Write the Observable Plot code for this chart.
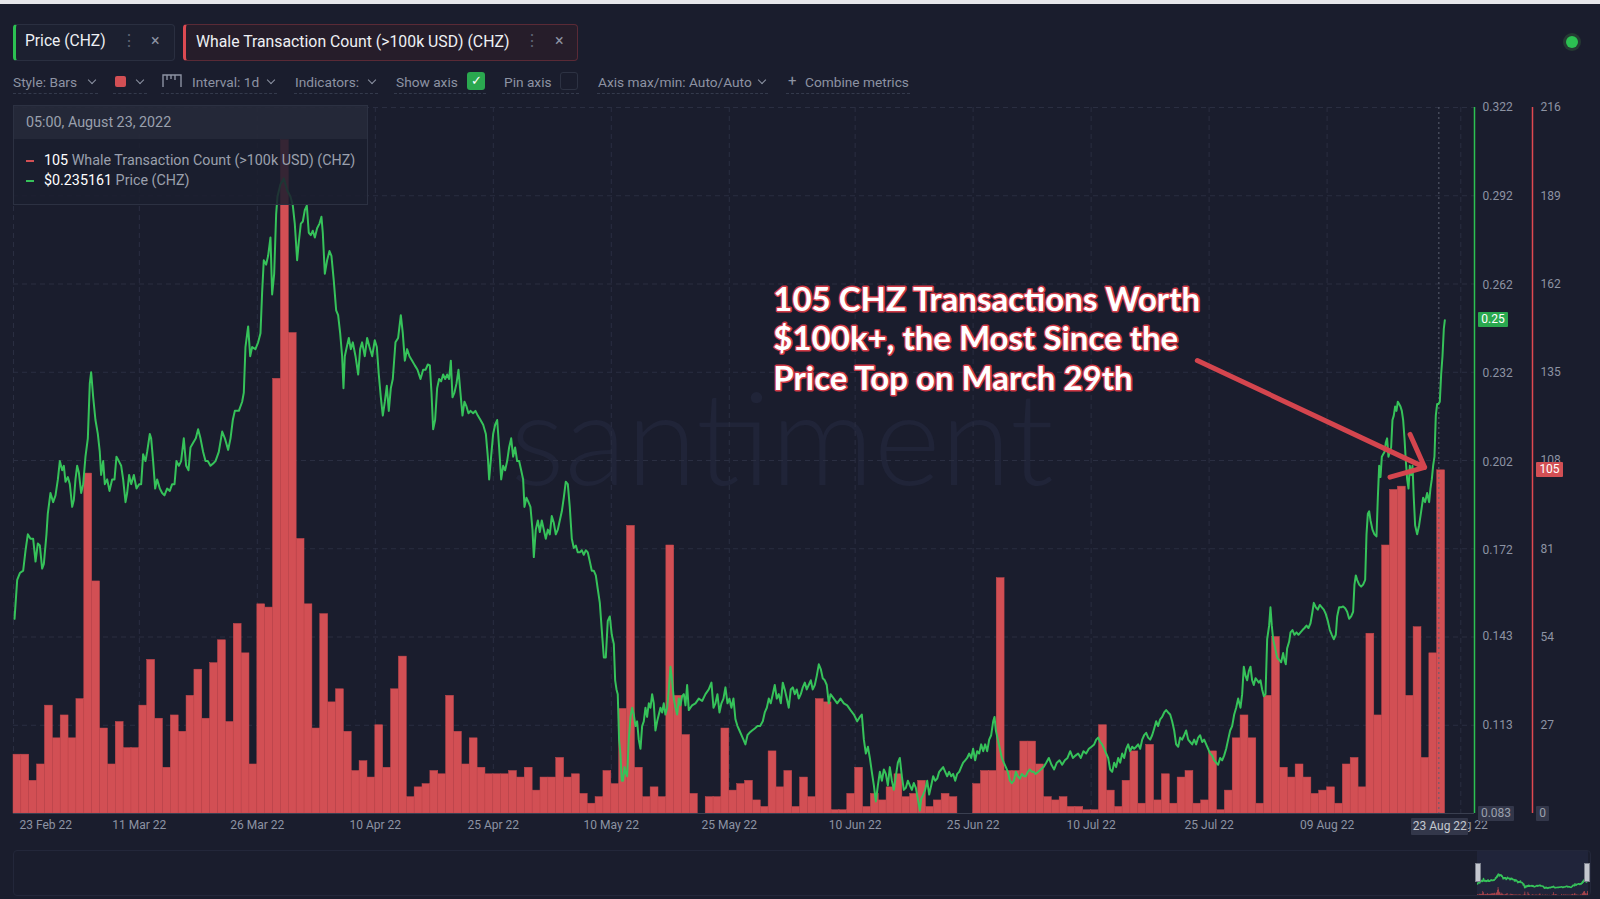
<!DOCTYPE html>
<html><head><meta charset="utf-8">
<script src="https://cdn.jsdelivr.net/npm/d3@7"></script>
<script src="https://cdn.jsdelivr.net/npm/@observablehq/plot@0.6"></script>
<style>
html,body{margin:0;padding:0;background:#1a1d2d;width:1600px;height:899px;overflow:hidden;font-family:Roboto,"Open Sans",sans-serif;}
#root{position:relative;width:1600px;height:899px;}
.a{position:absolute;white-space:nowrap;}
.tb{font-size:13.7px;color:#8d93a3;line-height:18px;top:73px;}
.chev{position:absolute;width:5px;height:5px;border-right:1.3px solid #8d93a3;border-bottom:1.3px solid #8d93a3;transform:rotate(45deg);top:77px;}
.ul{position:absolute;top:93px;height:0;border-bottom:1px dashed #343a4c;}
.tag{position:absolute;font-size:12px;line-height:15px;height:15px;text-align:center;border-radius:1px;}
</style></head>
<body><div id="root">
<div class="a" style="left:0;top:0;width:1600px;height:4px;background:#e6e6ea"></div>
<!-- tabs -->
<div class="a" style="left:13px;top:24px;width:158px;height:35px;border:1px solid #2a2f40;border-left:3px solid #2cc152;border-radius:4px;background:#1c2030"></div>
<div class="a" style="left:25px;top:32px;font-size:15.6px;color:#eef0f4">Price (CHZ)</div>
<div class="a" style="left:121px;top:31px;font-size:16px;color:#5d6373">⋮</div>
<div class="a" style="left:151px;top:31px;font-size:16px;color:#8d93a3">×</div>
<div class="a" style="left:183px;top:24px;width:391px;height:35px;border:1px solid #5a2a36;border-left:3px solid #dc4a52;border-radius:4px;background:#261d2a"></div>
<div class="a" style="left:196px;top:32px;font-size:15.8px;color:#eef0f4">Whale Transaction Count (&gt;100k USD) (CHZ)</div>
<div class="a" style="left:524px;top:31px;font-size:16px;color:#5d6373">⋮</div>
<div class="a" style="left:555px;top:31px;font-size:16px;color:#8d93a3">×</div>
<div class="a" style="left:1566px;top:36px;width:12px;height:12px;border-radius:50%;background:#2cc152;box-shadow:0 0 0 3px #253a33"></div>
<!-- toolbar -->
<div class="a tb" style="left:13px">Style: Bars</div><div class="chev" style="left:89px"></div>
<div class="a" style="left:115px;top:76px;width:11px;height:11px;border-radius:2px;background:#d24f54"></div><div class="chev" style="left:137px"></div>
<svg class="a" style="left:162px;top:74px" width="20" height="14"><path d="M1,13 V1 H19 V13 M5,1 V6 M9,1 V5 M13,1 V6" fill="none" stroke="#8d93a3" stroke-width="1.4"/></svg>
<div class="a tb" style="left:192px">Interval: 1d</div><div class="chev" style="left:268px"></div>
<div class="a tb" style="left:295px">Indicators:</div><div class="chev" style="left:369px"></div>
<div class="a tb" style="left:396px">Show axis</div>
<div class="a" style="left:467px;top:72px;width:18px;height:18px;border-radius:3px;background:#2aa84f;color:#fff;font-size:13px;line-height:18px;text-align:center">✓</div>
<div class="a tb" style="left:504px">Pin axis</div>
<div class="a" style="left:560px;top:72px;width:16px;height:16px;border-radius:3px;border:1px solid #2d3243"></div>
<div class="a tb" style="left:598px">Axis max/min: Auto/Auto</div><div class="chev" style="left:759px"></div>
<div class="a tb" style="left:788px;font-size:15px;top:72px">+</div>
<div class="a tb" style="left:805px">Combine metrics</div>
<div class="ul" style="left:13px;width:85px"></div><div class="ul" style="left:113px;width:34px"></div>
<div class="ul" style="left:161px;width:116px"></div><div class="ul" style="left:294px;width:84px"></div>
<div class="ul" style="left:394px;width:92px"></div><div class="ul" style="left:502px;width:77px"></div>
<div class="ul" style="left:597px;width:171px"></div><div class="ul" style="left:786px;width:124px"></div>
<!-- navigator -->
<div class="a" style="left:13px;top:850px;width:1576px;height:44px;border:1px solid #23273a;border-radius:4px"></div>
<div class="a" style="left:1477px;top:851px;width:111px;height:43px;background:#20243a"></div>
<div id="chart" class="a" style="left:0;top:95px"></div>
<div id="nav" class="a" style="left:1477px;top:850px;width:111px;height:45px"></div>
<div class="a" style="left:1475px;top:863px;width:4px;height:17px;background:#c4c7cf;border:1px solid #7c808c"></div>
<div class="a" style="left:1584px;top:863px;width:4px;height:17px;background:#c4c7cf;border:1px solid #7c808c"></div>
<div id="tip" class="a" style="left:13px;top:105px;width:353px;height:98px;border:1px solid #2c3142;background:rgba(27,30,46,0.86)">
  <div id="tiphead" style="height:33px;line-height:33px;padding-left:12px;font-size:14.3px;color:#9aa0ad;background:rgba(45,49,66,0.55)"></div>
  <div id="row1" style="position:absolute;left:12px;top:46px;font-size:14.3px;color:#9aa0ad"></div>
  <div id="row2" style="position:absolute;left:12px;top:66px;font-size:14.3px;color:#9aa0ad"></div>
</div>
</div>
<script>
// ---------- data ----------
const startDay = "2022-02-23";
const whaleCounts = [18,18,10,15,33,23,30,23,35,104,71,26,15,28,20,20,33,47,29,14,30,25,36,44,29,46,
53,28,58,49,15,64,63,133,206,147,84,64,26,61,34,38,25,13,16,11,27,14,38,48,5,8,
9,13,12,36,25,15,23,14,12,12,12,13,11,14,7,11,11,17,11,12,6,3,5,13,9,32,
88,14,5,8,5,82,36,24,6,0,5,5,26,7,9,10,4,2,19,8,13,2,11,5,35,34,
1,1,6,14,2,6,4,8,12,5,6,10,2,4,6,5,0,0,9,13,13,72,13,13,22,22,
15,5,4,5,2,2,1,1,27,7,2,10,19,3,21,4,12,3,11,13,3,4,19,1,7,23,
30,23,3,36,54,14,11,15,11,6,7,8,3,15,17,8,55,30,82,99,100,36,57,17,49,105];
// [days since 23 Feb 2022, price USD]
const pricePoints = [
[0.13,0.1489],[0.47,0.1621],[0.81,0.1644],[1.23,0.1652],[1.53,0.1721],[1.82,0.1775],[2.16,0.1760],[2.50,0.1760],[2.80,0.1683],[3.09,0.1744],[3.35,0.1737],[3.64,0.1659],[3.86,0.1675],[4.19,0.1775],[4.36,0.1845],[4.70,0.1915],[5.04,0.1884],[5.34,0.1907],[5.64,0.1961],[5.89,0.2023],[6.19,0.1992],[6.40,0.2007],[6.61,0.1953],[6.91,0.1969],[7.16,0.1945],[7.46,0.1868],[7.67,0.1891],[7.88,0.1961],[8.09,0.2007],[8.31,0.1984],[8.60,0.1915],[8.86,0.1945],[9.15,0.2038],[9.45,0.2100],[9.70,0.2286],[9.87,0.2324],[10.13,0.2239],[10.42,0.2162],[10.72,0.2115],[10.97,0.2054],[11.14,0.1976],[11.40,0.2023],[11.61,0.1945],[11.91,0.1961],[12.20,0.1922],[12.54,0.1961],[12.84,0.1961],[13.09,0.2038],[13.39,0.2023],[13.69,0.2007],[13.94,0.1961],[14.24,0.1884],[14.45,0.1915],[14.70,0.1976],[14.96,0.1945],[15.30,0.1976],[15.64,0.1930],[15.97,0.1945],[16.23,0.1945],[16.48,0.2046],[16.78,0.2023],[16.99,0.2054],[17.33,0.2115],[17.50,0.2100],[17.75,0.2023],[18.01,0.1930],[18.26,0.1961],[18.60,0.1930],[18.90,0.1915],[19.19,0.1907],[19.53,0.1930],[19.87,0.1922],[20.17,0.1945],[20.47,0.1945],[20.72,0.2023],[21.02,0.2007],[21.31,0.2023],[21.65,0.2100],[21.95,0.2007],[22.25,0.1992],[22.50,0.2069],[22.84,0.2085],[23.18,0.2100],[23.47,0.2131],[23.77,0.2100],[24.11,0.2054],[24.41,0.2023],[24.70,0.2023],[25.04,0.2007],[25.38,0.2015],[25.68,0.2023],
[26.10,0.2054],[26.53,0.2123],[26.87,0.2100],[27.29,0.2061],[27.59,0.2100],[27.88,0.2162],[28.14,0.2193],[28.65,0.2193],[29.07,0.2224],[29.28,0.2255],[29.49,0.2409],[29.83,0.2479],[30.09,0.2378],[30.34,0.2409],[30.76,0.2402],[31.10,0.2425],[31.40,0.2456],[31.61,0.2595],[31.82,0.2703],[32.12,0.2688],[32.37,0.2718],[32.67,0.2780],[32.88,0.2587],[33.14,0.2657],[33.39,0.2858],[33.56,0.2919],[33.94,0.2960],[34.37,0.2980],[34.79,0.2940],[35.21,0.2919],[35.51,0.2888],[35.76,0.2827],[36.06,0.2703],[36.27,0.2765],[36.53,0.2827],[36.78,0.2834],[37.04,0.2873],[37.29,0.2888],[37.54,0.2796],[37.80,0.2788],[38.05,0.2803],[38.31,0.2780],[38.60,0.2811],[38.90,0.2827],[39.15,0.2850],[39.32,0.2796],[39.58,0.2657],[39.87,0.2703],[40.17,0.2734],[40.42,0.2718],[40.72,0.2633],[41.02,0.2533],[41.27,0.2517],[41.53,0.2456],[41.78,0.2378],[41.95,0.2270],[42.12,0.2378],[42.37,0.2409],[42.63,0.2440],[42.88,0.2402],[43.14,0.2425],[43.48,0.2378],[43.82,0.2316],[44.07,0.2402],[44.32,0.2425],[44.66,0.2378],[44.96,0.2440],[45.26,0.2409],[45.60,0.2378],[45.93,0.2432],[46.19,0.2409],[46.44,0.2316],[46.70,0.2239],[46.95,0.2177],[47.21,0.2224],[47.46,0.2278],[47.71,0.2193],[47.97,0.2270],[48.22,0.2301],[48.56,0.2425],[48.90,0.2440],[49.24,0.2517],[49.49,0.2456],[49.75,0.2363],[50.04,0.2402],[50.34,0.2378],[50.68,0.2363],[51.02,0.2347],[51.36,0.2332],[51.74,0.2301],
[52.08,0.2332],[52.38,0.2332],[52.67,0.2350],[52.93,0.2347],[53.14,0.2255],[53.35,0.2131],[53.60,0.2162],[53.86,0.2270],[54.11,0.2301],[54.37,0.2293],[54.62,0.2316],[54.88,0.2301],[55.13,0.2316],[55.38,0.2301],[55.60,0.2363],[55.81,0.2239],[56.06,0.2255],[56.32,0.2286],[56.57,0.2332],[56.82,0.2255],[57.08,0.2177],[57.33,0.2224],[57.59,0.2208],[57.84,0.2185],[58.10,0.2193],[58.43,0.2185],[58.73,0.2193],[59.03,0.2177],[59.37,0.2162],[59.71,0.2146],[60.05,0.2115],[60.30,0.2038],[60.47,0.1961],[60.72,0.2038],[60.98,0.2115],[61.23,0.2146],[61.49,0.2162],[61.74,0.2069],[62.00,0.1961],[62.25,0.2007],[62.50,0.1992],[62.76,0.2023],[63.01,0.2069],[63.27,0.2100],[63.52,0.2038],[63.77,0.2069],[64.03,0.2023],[64.28,0.2023],[64.54,0.1992],[64.79,0.1961],[64.96,0.1868],[65.21,0.1899],[65.47,0.1884],[65.72,0.1868],[65.98,0.1791],[66.15,0.1698],[66.40,0.1791],[66.66,0.1822],[66.91,0.1783],[67.16,0.1822],[67.42,0.1791],[67.67,0.1760],[67.93,0.1791],[68.18,0.1775],[68.43,0.1837],[68.69,0.1814],[68.94,0.1775],[69.20,0.1791],[69.45,0.1822],[69.71,0.1853],[69.96,0.1899],[70.21,0.1953],[70.47,0.1945],[70.72,0.1868],[70.98,0.1760],[71.23,0.1729],[71.49,0.1737],[71.74,0.1714],[71.99,0.1714],[72.25,0.1721],[72.50,0.1706],[72.76,0.1721],[73.01,0.1714],[73.27,0.1683],[73.52,0.1652],[73.77,0.1652],[74.03,0.1636],[74.28,0.1590],[74.54,0.1543],[74.79,0.1451],[75.05,0.1358],[75.30,0.1358],[75.55,0.1482],[75.81,0.1497],[76.06,0.1435],[76.32,0.1404],[76.49,0.1281],[76.66,0.1250],[76.82,0.1234],[76.99,0.1080],[77.16,0.1033],[77.33,0.0941],[77.50,0.0941],[77.67,0.0987],
[77.80,0.0971],[78.01,0.0956],[78.22,0.1080],[78.44,0.1157],[78.65,0.1188],[78.86,0.1165],[79.07,0.1126],[79.28,0.1142],[79.49,0.1080],[79.71,0.1049],[79.92,0.1126],[80.13,0.1142],[80.34,0.1188],[80.55,0.1157],[80.77,0.1203],[80.98,0.1188],[81.19,0.1234],[81.40,0.1203],[81.61,0.1111],[81.83,0.1142],[82.04,0.1165],[82.25,0.1188],[82.46,0.1172],[82.67,0.1203],[82.88,0.1165],[83.10,0.1188],[83.31,0.1250],[83.52,0.1327],[83.73,0.1281],[83.94,0.1219],[84.16,0.1188],[84.37,0.1165],[84.58,0.1219],[84.79,0.1196],[85.00,0.1227],[85.22,0.1234],[85.43,0.1196],[85.64,0.1265],[85.85,0.1180],[86.06,0.1188],[86.27,0.1196],[86.70,0.1203],[87.12,0.1219],[87.55,0.1211],[87.97,0.1234],[88.39,0.1250],[88.73,0.1273],[88.99,0.1188],[89.24,0.1203],[89.49,0.1234],[89.75,0.1172],[90.00,0.1203],[90.26,0.1219],[90.51,0.1257],[90.77,0.1203],[91.02,0.1219],[91.27,0.1188],[91.53,0.1219],[91.78,0.1149],[92.04,0.1126],[92.29,0.1111],[92.55,0.1095],[92.80,0.1080],[93.05,0.1064],[93.31,0.1095],[93.56,0.1103],[93.90,0.1111],[94.24,0.1118],[94.58,0.1126],[94.92,0.1126],[95.26,0.1142],[95.51,0.1172],[95.77,0.1188],[96.02,0.1219],[96.27,0.1203],[96.53,0.1234],[96.78,0.1265],[97.04,0.1219],[97.29,0.1234],[97.55,0.1203],[97.80,0.1273],[98.05,0.1250],[98.31,0.1219],[98.56,0.1188],[98.82,0.1250],[99.07,0.1257],[99.33,0.1234],[99.58,0.1250],[99.83,0.1219],[100.09,0.1234],[100.34,0.1257],[100.60,0.1273],[100.85,0.1250],[101.10,0.1265],[101.36,0.1281],[101.61,0.1250],[101.87,0.1265],[102.12,0.1296],[102.38,0.1335],[102.63,0.1319],[102.88,0.1288],[103.14,0.1281],[103.39,0.1265],[103.65,0.1203],
[103.87,0.1234],[104.29,0.1219],[104.72,0.1203],[105.14,0.1219],[105.56,0.1203],[105.99,0.1196],[106.41,0.1180],[106.84,0.1165],[107.26,0.1142],[107.60,0.1157],[107.85,0.1165],[108.11,0.1080],[108.36,0.1033],[108.62,0.1056],[108.87,0.1018],[109.12,0.0971],[109.38,0.0925],[109.63,0.0871],[109.89,0.0925],[110.14,0.0971],[110.40,0.0941],[110.65,0.0979],[110.90,0.0964],[111.16,0.0925],[111.41,0.0987],[111.67,0.0941],[111.92,0.0910],[112.17,0.0956],[112.43,0.1002],[112.68,0.1018],[112.94,0.0956],[113.19,0.0910],[113.45,0.0917],[113.70,0.0941],[113.95,0.0925],[114.21,0.0910],[114.46,0.0933],[114.72,0.0917],[114.97,0.0879],[115.23,0.0840],[115.40,0.0879],[115.65,0.0894],[115.90,0.0910],[116.16,0.0941],[116.41,0.0894],[116.67,0.0925],[116.92,0.0956],[117.17,0.0941],[117.43,0.0948],[117.68,0.0971],[117.94,0.0979],[118.19,0.0987],[118.45,0.0971],[118.70,0.0956],[118.95,0.0971],[119.21,0.0956],[119.46,0.0964],[119.72,0.0941],[119.97,0.0964],[120.23,0.0971],[120.48,0.0987],[120.73,0.1002],[120.99,0.1010],[121.24,0.1018],[121.50,0.1033],[121.75,0.1018],[122.00,0.1049],[122.26,0.1010],[122.51,0.1041],[122.77,0.1033],[123.02,0.1064],[123.28,0.1041],[123.53,0.1064],[123.79,0.1041],[124.04,0.1080],[124.29,0.1095],[124.55,0.1142],[124.72,0.1157],[124.89,0.1111],[125.14,0.1080],[125.40,0.1049],[125.65,0.1018],[125.90,0.1002],[126.16,0.0987],[126.41,0.0971],[126.67,0.0941],[126.92,0.0933],[127.18,0.0941],[127.43,0.0971],[127.68,0.0956],[127.94,0.0948],[128.19,0.0964],[128.45,0.0956],[128.70,0.0956],[128.95,0.0971],[129.21,0.0979],[129.46,0.0971],[129.72,0.0971],
[129.93,0.0964],[130.27,0.0971],[130.61,0.0979],[130.95,0.0987],[131.29,0.1002],[131.62,0.1018],[131.96,0.0995],[132.30,0.0979],[132.64,0.1002],[132.98,0.1010],[133.32,0.0995],[133.66,0.1010],[134.00,0.1018],[134.34,0.1041],[134.68,0.1018],[135.01,0.1026],[135.35,0.1033],[135.69,0.1018],[136.03,0.1041],[136.37,0.1033],[136.71,0.1049],[137.05,0.1056],[137.39,0.1064],[137.64,0.1080],[137.90,0.1087],[138.15,0.1072],[138.40,0.1064],[138.66,0.1049],[138.91,0.1033],[139.17,0.1018],[139.42,0.0979],[139.68,0.0971],[139.93,0.1002],[140.18,0.0987],[140.44,0.1018],[140.69,0.1002],[140.95,0.1033],[141.20,0.1018],[141.46,0.1049],[141.71,0.1064],[141.96,0.1041],[142.22,0.1056],[142.47,0.1049],[142.73,0.1056],[142.98,0.1064],[143.24,0.1049],[143.49,0.1080],[143.74,0.1095],[144.00,0.1103],[144.25,0.1087],[144.51,0.1080],[144.76,0.1095],[145.02,0.1118],[145.27,0.1142],[145.52,0.1126],[145.78,0.1149],[146.03,0.1157],[146.29,0.1172],[146.54,0.1180],[146.79,0.1172],[147.05,0.1165],[147.30,0.1142],[147.56,0.1111],[147.81,0.1064],[148.07,0.1056],[148.32,0.1087],[148.57,0.1080],[148.83,0.1095],[149.08,0.1111],[149.34,0.1080],[149.59,0.1072],[149.85,0.1064],[150.10,0.1080],[150.35,0.1064],[150.61,0.1087],[150.86,0.1095],[151.12,0.1072],[151.37,0.1080],[151.63,0.1064],[151.88,0.1049],[152.13,0.1033],[152.39,0.1026],[152.64,0.1010],[152.90,0.1002],[153.15,0.0995],[153.40,0.1018],[153.66,0.1010],[153.91,0.1026],[154.17,0.1049],[154.42,0.1080],[154.68,0.1111],[154.93,0.1126],[155.19,0.1165],[155.44,0.1188],[155.69,0.1219],
[155.99,0.1188],[156.20,0.1234],[156.41,0.1327],[156.63,0.1296],[156.84,0.1281],[157.05,0.1312],[157.26,0.1327],[157.47,0.1281],[157.68,0.1265],[157.90,0.1288],[158.11,0.1281],[158.32,0.1273],[158.53,0.1281],[158.74,0.1250],[158.96,0.1227],[159.17,0.1234],[159.38,0.1420],[159.63,0.1466],[159.80,0.1528],[159.97,0.1466],[160.14,0.1420],[160.40,0.1389],[160.65,0.1358],[160.91,0.1350],[161.16,0.1342],[161.41,0.1373],[161.58,0.1350],[161.75,0.1335],[161.92,0.1389],[162.18,0.1412],[162.35,0.1443],[162.60,0.1451],[162.85,0.1435],[163.11,0.1443],[163.36,0.1435],[163.62,0.1443],[163.87,0.1451],[164.13,0.1458],[164.38,0.1466],[164.63,0.1458],[164.89,0.1474],[165.14,0.1513],[165.31,0.1543],[165.57,0.1528],[165.82,0.1520],[166.07,0.1536],[166.33,0.1528],[166.58,0.1520],[166.84,0.1505],[167.09,0.1482],[167.35,0.1451],[167.60,0.1435],[167.85,0.1420],[168.11,0.1435],[168.28,0.1497],[168.53,0.1528],[168.79,0.1528],[169.04,0.1531],[169.30,0.1525],[169.55,0.1513],[169.80,0.1489],[170.06,0.1497],[170.31,0.1513],[170.48,0.1605],[170.65,0.1636],[170.82,0.1621],[171.08,0.1605],[171.33,0.1598],[171.58,0.1605],[171.84,0.1621],[172.01,0.1775],[172.18,0.1845],[172.35,0.1853],[172.52,0.1822],[172.77,0.1791],[173.02,0.1775],[173.28,0.1768],[173.45,0.1899],[173.62,0.2007],[173.79,0.1969],[173.96,0.2038],[174.13,0.2046],[174.30,0.2054],[174.46,0.2085],[174.63,0.2100],[174.80,0.2038],[174.97,0.2054],[175.14,0.2069],[175.31,0.2162],[175.48,0.2177],[175.65,0.2208],[175.82,0.2193],[175.99,0.2224],[176.16,0.2216],[176.33,0.2208],[176.50,0.2193],[176.67,0.2162],[176.84,0.2100],[177.01,0.2023],[177.18,0.1961],[177.35,0.1930],[177.52,0.2007],[177.69,0.1976],[177.86,0.2007],[178.02,0.1899],[178.19,0.1806],[178.45,0.1775],[178.70,0.1806],[178.96,0.1853],[179.21,0.1899],[179.46,0.1884],[179.72,0.1915],[179.97,0.1884],[180.14,0.1930],[180.31,0.1961],[180.48,0.2007],[180.65,0.2038],[180.82,0.2177],[180.99,0.2216],[181.16,0.2216],[181.33,0.2224],[181.50,0.2316],[181.67,0.2378],[181.84,0.2471],[181.97,0.2500]];
const countTicks = [0,27,54,81,108,135,162,189,216];
const priceTicks = [0.083,0.113,0.143,0.172,0.202,0.232,0.262,0.292,0.322];
const xTickLabels = ["23 Feb 22","11 Mar 22","26 Mar 22","10 Apr 22","25 Apr 22","10 May 22","25 May 22","10 Jun 22","25 Jun 22","10 Jul 22","25 Jul 22","09 Aug 22","26 Aug 22"];
const tooltipTime = "2022-08-23T05:00:00Z";
const tooltipPrice = 0.235161;
const lastPrice = 0.25;
const annotationText = "105 CHZ Transactions Worth\n$100k+, the Most Since the\nPrice Top on March 29th";
const annotationAt = {day: 96.6, count: 162.2};
const arrowFrom = {day: 150.5, count: 138.6};
const arrowTo = {day: 179.4, count: 105.9};

// ---------- helpers ----------
const RED = "#d24f54", GREEN = "#36c25a", GRID = "#2a2e41", LABEL = "#8d93a3";
const DAY = 86400000;
const t0 = Date.parse(startDay + "T00:00:00Z");
const dayToDate = d => new Date(t0 + d * DAY);
const pMin = priceTicks[0], pMax = priceTicks[priceTicks.length - 1], cMax = countTicks[countTicks.length - 1];
const priceToY = p => (p - pMin) / (pMax - pMin) * cMax;
const xEnd = dayToDate(185.74);
const parseTick = d3.utcParse("%d %b %y");
const tickDates = xTickLabels.map(parseTick);

const bars = whaleCounts.map((c, i) => ({start: dayToDate(i), end: dayToDate(i + 1), count: c}));
const prices = pricePoints.map(([d, p]) => ({date: dayToDate(d), price: p}));
const crossDate = new Date(Date.parse(tooltipTime));

const svgTop = 95;
const plot = Plot.plot({
  width: 1600, height: 745,
  marginTop: 12, marginBottom: 27, marginLeft: 13, marginRight: 126,
  style: {background: "transparent", color: LABEL, fontFamily: "Roboto, sans-serif", fontSize: "12px", overflow: "visible"},
  x: {type: "utc", domain: [t0, xEnd], axis: null},
  y: {domain: [0, cMax], axis: null},
  marks: [
    Plot.text(["santiment"], {frameAnchor: "middle", dx: 38, dy: -16, fontSize: 128, fontWeight: 300, fontFamily: "Lato, sans-serif", fill: "#202438"}),
    Plot.ruleY(countTicks.slice(1), {stroke: GRID, strokeDasharray: "5,4"}),
    Plot.ruleX(tickDates, {stroke: GRID, strokeDasharray: "5,4"}),
    Plot.rectY(bars, {x1: "start", x2: "end", y: "count", fill: RED, stroke: "#c4474c", strokeWidth: 0.5}),
    Plot.ruleY([0], {stroke: "#3a3f50"}),
    Plot.ruleX([crossDate], {stroke: "#5a5f70", strokeDasharray: "2,3"}),
    Plot.line(prices, {x: "date", y: d => priceToY(d.price), stroke: GREEN, strokeWidth: 2}),
    Plot.ruleX([xEnd], {stroke: "#2cc152", strokeWidth: 1.5}),
    Plot.ruleX([xEnd], {dx: 58, stroke: "#e04850", strokeWidth: 1.5}),
    Plot.text(priceTicks.slice(1), {x: () => xEnd, y: d => priceToY(d), text: d => d.toFixed(3), dx: 8, textAnchor: "start", fill: LABEL}),
    Plot.text(countTicks.slice(1), {x: () => xEnd, y: d => d, text: d => String(d), dx: 66, textAnchor: "start", fill: LABEL}),
    Plot.text(tickDates.slice(0, 1), {x: d => d, frameAnchor: "bottom", dy: 15, dx: 6, text: () => xTickLabels[0], textAnchor: "start", fill: LABEL}),
    Plot.text(tickDates.slice(1), {x: d => d, frameAnchor: "bottom", dy: 15, text: (d, i) => xTickLabels[i + 1], fill: LABEL}),
    Plot.arrow([0], {x1: () => dayToDate(arrowFrom.day), y1: () => arrowFrom.count, x2: () => dayToDate(arrowTo.day), y2: () => arrowTo.count,
      stroke: "#d4454e", strokeWidth: 5, headLength: 10.8, headAngle: 82, strokeLinecap: "round"}),
    Plot.text([annotationText], {x: () => dayToDate(annotationAt.day), y: () => annotationAt.count, textAnchor: "start", lineAnchor: "top",
      fontSize: 33, fontWeight: 700, fontFamily: "Lato, sans-serif", lineHeight: 1.19, fill: "#ffffff", stroke: "#cf3a47", strokeWidth: 3, paintOrder: "stroke"})
  ]
});
document.getElementById("chart").appendChild(plot);

// overlays positioned through the plot's own scales
const xs = plot.scale("x"), ys = plot.scale("y");
const root = document.getElementById("root");
function tag(text, left, centerY, width, bg, color) {
  const el = document.createElement("div");
  el.className = "tag";
  el.textContent = text;
  Object.assign(el.style, {left: left + "px", top: (centerY - 7.5) + "px", width: width + "px", background: bg, color});
  root.appendChild(el);
}
const frameRight = xs.apply(xEnd);
tag(lastPrice.toFixed(2), frameRight + 4, svgTop + ys.apply(priceToY(lastPrice)), 30, "#2aa84f", "#ffffff");
tag(String(whaleCounts[whaleCounts.length - 1]), frameRight + 62, svgTop + ys.apply(whaleCounts[whaleCounts.length - 1]), 27, RED, "#ffffff");
tag(priceTicks[0].toFixed(3), frameRight + 4, svgTop + ys.apply(0), 36, "#33374a", "#9ba0ad");
tag(String(countTicks[0]), frameRight + 62, svgTop + ys.apply(0), 13, "#33374a", "#9ba0ad");
const crossX = xs.apply(crossDate);
const dateBox = document.createElement("div");
dateBox.className = "tag";
dateBox.textContent = d3.utcFormat("%d %b %y")(crossDate);
Object.assign(dateBox.style, {left: (crossX - 27) + "px", top: (svgTop + ys.apply(0) + 5) + "px", width: "57px", height: "17px", lineHeight: "17px", background: "#33374a", color: "#c4c8d0"});
root.appendChild(dateBox);

// tooltip
document.getElementById("tiphead").textContent = d3.utcFormat("%H:%M, %B %-d, %Y")(crossDate);
document.getElementById("row1").innerHTML = `<span style="display:inline-block;width:8px;height:2px;background:${RED};vertical-align:middle;margin-right:10px"></span><span style="color:#fff">${whaleCounts[whaleCounts.length - 1]}</span> Whale Transaction Count (&gt;100k USD) (CHZ)`;
document.getElementById("row2").innerHTML = `<span style="display:inline-block;width:8px;height:2px;background:${GREEN};vertical-align:middle;margin-right:10px"></span><span style="color:#fff">$${tooltipPrice}</span> Price (CHZ)`;

// navigator (condensed view of the same series)
const navX = {type: "utc", domain: [t0, dayToDate(whaleCounts.length)], axis: null};
const nav1 = Plot.plot({width: 111, height: 45, margin: 0, x: navX, y: {domain: [0, 1160], axis: null},
  style: {background: "transparent", position: "absolute", left: 0, top: 0},
  marks: [Plot.rectY(bars, {x1: "start", x2: "end", y: "count", fill: RED})]});
const nav2 = Plot.plot({width: 111, height: 45, margin: 0, x: navX, y: {domain: [-0.022, 0.651], axis: null},
  style: {background: "transparent", position: "absolute", left: 0, top: 0},
  marks: [Plot.line(prices, {x: "date", y: "price", stroke: GREEN, strokeWidth: 1.5})]});
document.getElementById("nav").appendChild(nav1);
document.getElementById("nav").appendChild(nav2);
</script>
</body></html>
